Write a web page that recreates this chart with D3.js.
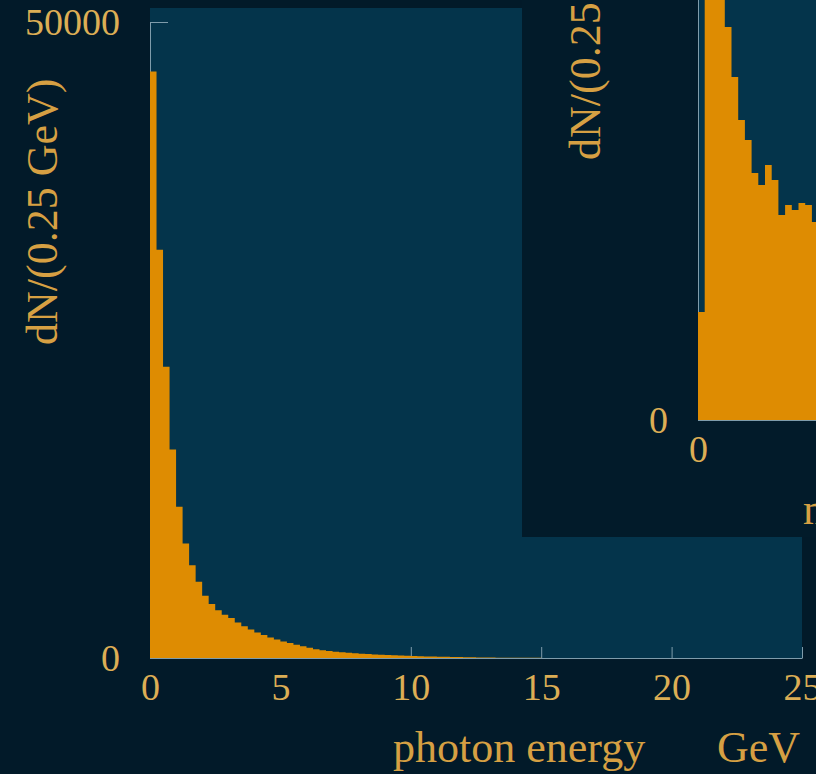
<!DOCTYPE html>
<html>
<head>
<meta charset="utf-8">
<style>
    body { margin: 0; background: #021a29; }
    svg { display: block; }
    .tick text { font-family: "Liberation Serif", "Times New Roman", serif; font-size: 38px; fill: #dcae55; }
    .tick line { stroke: #7f9cab; stroke-width: 1px; }
    .domain { stroke: #7f9cab; stroke-width: 1px; }
    .title { font-family: "Liberation Serif", "Times New Roman", serif; font-size: 44px; fill: #d6a043; }
</style>
</head>
<body>
<svg width="816" height="774"></svg>

<script src="https://d3js.org/d3.v7.min.js"></script>
<script>

// photon energy spectrum, 0.25 GeV bins from 0 to 25 GeV
let binWidth = 0.25;
let mainCounts = [
    46100, 32100, 22900, 16400, 11900, 9000, 7300, 6000, 4900, 4250,
    3750, 3400, 3150, 2800, 2500, 2250, 2000, 1800, 1620, 1460,
    1300, 1180, 1050, 920, 800, 680, 610, 550, 500, 450,
    410, 370, 340, 310, 280, 255, 230, 210, 190, 170,
    155, 140, 125, 112, 100, 90, 80, 70, 60, 52,
    45, 39, 34, 29, 25, 21, 18, 15, 13, 11,
    9, 8, 7, 6, 5, 4, 4, 3, 3, 2,
    2, 2, 1, 1, 1, 1, 1, 0, 0, 0,
    0, 0, 0, 0, 0, 0, 0, 0, 0, 0,
    0, 0, 0, 0, 0, 0, 0, 0, 0, 0
];
let mainXTicks = [0, 5, 10, 15, 20, 25];
let mainYTicks = [0, 50000];

// second window, only its lower left corner is on screen
let insetCounts = [
    679, 3585, 3207, 2830, 2472, 2157, 1887, 1761, 1553, 1478,
    1604, 1509, 1289, 1352, 1321, 1365, 1352, 1245, 1200, 1150
];
let insetXTicks = [0];
let insetYTicks = [0];

let svg = d3.select("svg");

function drawPanel(g, p) {
    let x = d3.scaleLinear().domain([0, 25]).range([p.left, p.right]);
    let y = d3.scaleLinear().domain([0, p.yMax]).range([p.bottom, p.top]);

    g.append("rect")
        .attr("x", p.left)
        .attr("y", p.plotTop)
        .attr("width", p.right - p.left)
        .attr("height", p.bottom - p.plotTop)
        .style("fill", "#04344b");

    g.append("g")
        .attr("transform", `translate(0, ${p.bottom})`)
        .call(d3.axisBottom(x).tickValues(p.xTicks).tickSize(-11).tickSizeOuter(0).tickPadding(15));

    g.append("g")
        .attr("transform", `translate(${p.left}, 0)`)
        .call(d3.axisLeft(y).tickValues(p.yTicks).tickFormat(d3.format("d"))
            .tickSize(-18).tickSizeOuter(0).tickPadding(30))
        .selectAll(".tick text").attr("dy", "0.34em");

    // step outline, last bin repeated to close the final step
    let pts = p.counts.map((c, i) => ({ e: i * binWidth, c: c }));
    pts.push({ e: p.counts.length * binWidth, c: p.counts[p.counts.length - 1] });

    let area = d3.area()
        .curve(d3.curveStepAfter)
        .x(d => x(d.e))
        .y0(y(0))
        .y1(d => y(d.c));

    g.append("path")
        .attr("d", area(pts))
        .style("fill", "#de8c02");

    g.append("text")
        .attr("class", "title")
        .attr("transform", `translate(${p.yTitleX}, ${p.yTitleY}) rotate(-90)`)
        .text(p.yTitle);

    g.append("text")
        .attr("class", "title")
        .attr("x", p.xTitleX)
        .attr("y", p.bottom + 104)
        .text(p.xTitle);

    if (p.unit) {
        g.append("text")
            .attr("class", "title")
            .attr("x", p.unitX)
            .attr("y", p.bottom + 104)
            .text(p.unit);
    }
}

drawPanel(svg.append("g"), {
    left: 150, right: 802, top: 22, bottom: 658, plotTop: 8,
    yMax: 50000, counts: mainCounts, xTicks: mainXTicks, yTicks: mainYTicks,
    yTitle: "dN/(0.25 GeV)", yTitleX: 57, yTitleY: 345,
    xTitle: "photon energy", xTitleX: 393, unit: "GeV", unitX: 717
});

// dark window on top
svg.append("rect")
    .attr("x", 522)
    .attr("y", 0)
    .attr("width", 294)
    .attr("height", 537)
    .style("fill", "#021b2a");

drawPanel(svg.append("g"), {
    left: 698, right: 1368, top: -216, bottom: 420, plotTop: -230,
    yMax: 4000, counts: insetCounts, xTicks: insetXTicks, yTicks: insetYTicks,
    yTitle: "dN/(0.25 GeV)", yTitleX: 600, yTitleY: 160,
    xTitle: "mass", xTitleX: 803
});

</script>
</body>
</html>
